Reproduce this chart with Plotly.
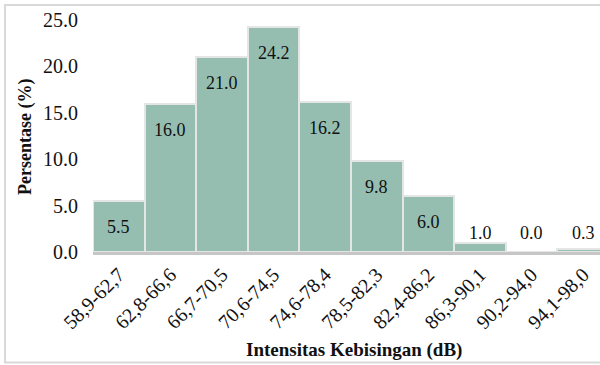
import plotly.graph_objects as go

categories = ["58,9-62,7", "62,8-66,6", "66,7-70,5", "70,6-74,5", "74,6-78,4",
              "78,5-82,3", "82,4-86,2", "86,3-90,1", "90,2-94,0", "94,1-98,0"]
values = [5.5, 16.0, 21.0, 24.2, 16.2, 9.8, 6.0, 1.0, 0.0, 0.3]
y_ticks = [0, 5, 10, 15, 20, 25]

FONT = "Liberation Serif"
W, H = 600, 365
L, R, T, B = 93, 0, 20, 113
pw = W - L - R
ph = H - T - B
BARPX = 51.6
TXT = "#111111"

fig = go.Figure()
fig.add_trace(go.Bar(
    x=list(range(len(categories))), y=values,
    marker=dict(color="#95BEB1", line=dict(color="#E4E6E5", width=2)),
    hoverinfo="skip",
))

ann = []
for i, v in enumerate(values):
    if v >= 5:
        ann.append(dict(x=i, y=v, xref="x", yref="y", text=f"{v:.1f}", showarrow=False,
                        yshift=-26, font=dict(family=FONT, size=18, color=TXT)))
    else:
        ann.append(dict(x=i, y=2.1, xref="x", yref="y", text=f"{v:.1f}", showarrow=False,
                        font=dict(family=FONT, size=18, color=TXT)))

ann.append(dict(x=(354 - L) / pw, y=(T + ph - 350) / ph, xref="paper", yref="paper",
                xanchor="center", yanchor="middle",
                text="<b>Intensitas Kebisingan (dB)</b>", showarrow=False,
                font=dict(family=FONT, size=19, color=TXT)))
ann.append(dict(x=(25 - L) / pw, y=(T + ph - 137) / ph, xref="paper", yref="paper",
                xanchor="center", yanchor="middle",
                text="<b>Persentase (%)</b>", showarrow=False, textangle=-90,
                font=dict(family=FONT, size=18, color=TXT)))

shapes = [dict(type="rect", xref="paper", yref="paper",
               x0=(5 - L) / pw, x1=(W + 5 - L) / pw,
               y0=(T + ph - 362.5) / ph, y1=(T + ph - 5) / ph,
               line=dict(color="#D9D9D9", width=2), fillcolor="rgba(0,0,0,0)", layer="below")]

fig.update_layout(
    width=W, height=H,
    margin=dict(l=L, r=R, t=T, b=B, autoexpand=False),
    paper_bgcolor="white", plot_bgcolor="white",
    bargap=0, showlegend=False,
    annotations=ann, shapes=shapes,
    font=dict(family=FONT, size=18, color=TXT),
)
fig.update_xaxes(
    range=[-0.5, -0.5 + pw / BARPX], automargin=False,
    tickvals=list(range(len(categories))), ticktext=categories,
    tickangle=-45, showgrid=False, zeroline=False,
    showline=True, linecolor="#C6C6C6", linewidth=3,
    ticks="", tickfont=dict(family=FONT, size=20, color=TXT),
)
fig.update_yaxes(
    range=[0, 25], tickvals=y_ticks, ticktext=[f"{t:.1f}" for t in y_ticks],
    automargin=False,
    showgrid=False, zeroline=False, showline=False, ticks="",
    ticklabelstandoff=14, tickfont=dict(family=FONT, size=20, color=TXT),
)

fig.write_html("out.html", config={"displayModeBar": False},
               post_script="document.body.style.margin='0px';document.body.style.overflow='hidden';")
